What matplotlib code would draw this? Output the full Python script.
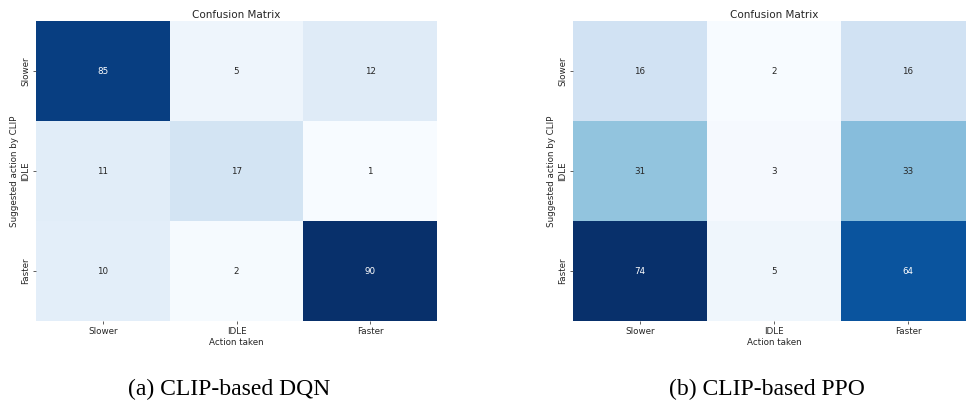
import numpy as np
import matplotlib
matplotlib.use("Agg")
from matplotlib import pyplot as plt
import seaborn as sns

actions = ["Slower", "IDLE", "Faster"]

# rows: action suggested by CLIP, columns: action taken
dqn_counts = [[85, 5, 12],
              [11, 17, 1],
              [10, 2, 90]]
ppo_counts = [[16, 2, 16],
              [31, 3, 33],
              [74, 5, 64]]

captions = ["(a) CLIP-based DQN", "(b) CLIP-based PPO"]

fs = 6.3
fig = plt.figure(figsize=(9.66, 4.05), dpi=100)
ax1 = fig.add_axes([0.0373, 0.2074, 0.4151, 0.7407])
ax2 = fig.add_axes([0.5932, 0.2074, 0.4161, 0.7407])

for ax, counts in zip([ax1, ax2], [dqn_counts, ppo_counts]):
    sns.heatmap(np.array(counts), annot=True, fmt="d", cmap="Blues", cbar=False,
                xticklabels=actions, yticklabels=actions, ax=ax,
                annot_kws={"fontsize": fs})
    ax.set_title("Confusion Matrix", fontsize=7.5, pad=2.5, color="#262626")
    ax.set_xlabel("Action taken", fontsize=fs, labelpad=2, color="#262626")
    ax.set_ylabel("Suggested action by CLIP", fontsize=fs, labelpad=2, color="#262626")
    ax.tick_params(labelsize=fs, length=2, width=0.6, pad=2,
                   color="#444444", labelcolor="#262626")
    plt.setp(ax.get_yticklabels(), rotation=90, va="center")
    plt.setp(ax.get_xticklabels(), rotation=0)

fig.text(0.237, 0.039, captions[0], ha="center", va="center",
         family="Liberation Serif", fontsize=17)
fig.text(0.794, 0.039, captions[1], ha="center", va="center",
         family="Liberation Serif", fontsize=17)

fig.savefig("out.png", dpi=100)
